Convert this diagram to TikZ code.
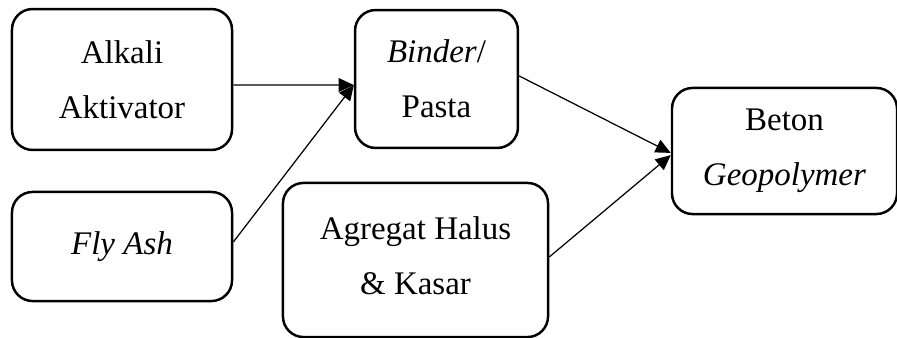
\documentclass[tikz,border=0pt]{standalone}
\usepackage{fontspec}
\setmainfont{Liberation Serif}
\usepackage{tikz}
\usetikzlibrary{positioning,arrows.meta,calc}
\tikzset{
  blok/.style={draw,line width=0.9pt,rounded corners=7.5pt,align=center,
              font=\fontsize{12pt}{20pt}\selectfont,inner sep=0pt},
  alur/.style={-{Triangle[length=5.5pt,width=5pt]},line width=0.45pt},
}

\begin{document}
\begin{tikzpicture}[x=0.364pt,y=-0.364pt]
  \useasboundingbox (0,0) rectangle (897,338);
  \node[blok,minimum width=80.1pt,minimum height=51.3pt] (alkali) at (122,79.5) {Alkali\\Aktivator};
  \node[blok,minimum width=80.1pt,minimum height=39.7pt] (flyash) at (122,246.5) {\raisebox{2pt}{\itshape Fly Ash}};
  \node[blok,minimum width=59.3pt,minimum height=50.2pt] (binder) at (436.5,79) {\textit{Binder}/\\Pasta};
  \node[blok,minimum width=96.5pt,minimum height=56.1pt] (agregat) at (415.5,260) {Agregat Halus\\\& Kasar\\[-17pt]};
  \node[blok,minimum width=81.9pt,minimum height=45.9pt] (beton) at (784.5,151) {Beton\\\textit{Geopolymer}};
  % panah masuk ke binder
  \draw[alur] ([yshift=-2.0pt]alkali.east) -- ([yshift=-2.2pt]binder.west);
  \draw[alur] ([yshift=1.6pt]flyash.east) -- ([yshift=-2.2pt]binder.west);
  % panah masuk ke beton
  \draw[alur] ([yshift=1.1pt]binder.east) -- ([yshift=-0.7pt]beton.west);
  \draw[alur] ([yshift=1.1pt]agregat.east) -- ([yshift=-1.5pt]beton.west);
\end{tikzpicture}
\end{document}
